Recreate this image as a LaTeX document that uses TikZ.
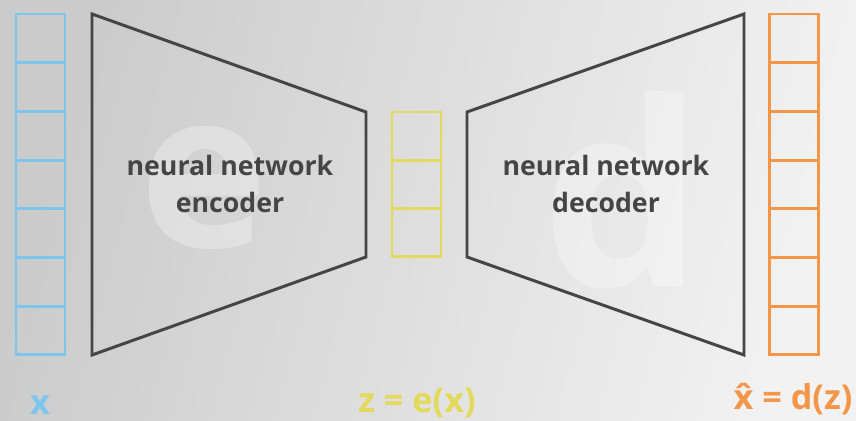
\documentclass[tikz,border=0pt]{standalone}
\usepackage{amsmath}
\usepackage{fontspec}
\setmainfont{Open Sans}
\usetikzlibrary{positioning}
\definecolor{inblue}{HTML}{7CC6EE}
\definecolor{codeyellow}{HTML}{E3D95A}
\definecolor{outorange}{HTML}{F2974A}
\definecolor{netgray}{HTML}{454545}
\definecolor{bgdark}{HTML}{CBCBCB}
\definecolor{bglight}{HTML}{F2F2F2}

\begin{document}
\begin{tikzpicture}[
  x=0.02cm, y=-0.02cm,
  cell/.style={rectangle, line width=1.6pt, outer sep=0pt, inner sep=0pt,
               minimum width=0.98cm, minimum height=0.974cm},
  zcell/.style={cell, minimum height=0.966cm},
  net/.style={draw=netgray, line width=1.7pt, line join=miter},
  netlbl/.style={font=\bfseries\fontsize{15.2}{20.8}\selectfont, text=netgray, align=center},
  ghost/.style={font=\bfseries\fontsize{#1}{#1}\selectfont, text=white, opacity=0.3},
  varlbl/.style={font=\bfseries\fontsize{19.5}{19.5}\selectfont, inner sep=0pt},
]

% --- background ---
\useasboundingbox (0,0) rectangle (856,421);
\shade[left color=bgdark, right color=bglight, shading angle=75] (0,0) rectangle (856,421);

% --- ghost letters ---
\node[ghost=124] (eglyph) at (204,188) {e};
\node[ghost=146] (dglyph) at (623,190) {d};

% --- input, code and output vectors ---
\foreach \i in {1,...,7}
  \node[cell, draw=inblue] (x\i) at (40.5, {14+48.7*(\i-0.5)}) {};
\foreach \i in {1,...,3}
  \node[zcell, draw=codeyellow] (z\i) at (416.5, {112+48.3*(\i-0.5)}) {};
\foreach \i in {1,...,7}
  \node[cell, draw=outorange] (y\i) at (794, {14+48.7*(\i-0.5)}) {};

% --- encoder and decoder ---
\coordinate (enctl) at (92,14);
\coordinate (enctr) at (366,112);
\coordinate (encbr) at (366,257);
\coordinate (encbl) at (92,355);
\draw[net] (enctl) -- (enctr) -- (encbr) -- (encbl) -- cycle;

\coordinate (dectl) at (467,112);
\coordinate (dectr) at (744,14);
\coordinate (decbr) at (744,355);
\coordinate (decbl) at (467,257);
\draw[net] (dectl) -- (dectr) -- (decbr) -- (decbl) -- cycle;

\node[netlbl] (enclbl) at (230,184) {neural network\\encoder};
\node[netlbl] (declbl) at (606,184) {neural network\\decoder};

% --- variable labels ---
\node[varlbl, text=inblue] (xlbl) at (40,405) {x};
\node[varlbl, text=codeyellow] (zlbl) at (417,403) {z = e(x)};
\node[varlbl, text=outorange] (ylbl) at (793,399) {\accent"02C6 x = d(z)};

\end{tikzpicture}
\end{document}
